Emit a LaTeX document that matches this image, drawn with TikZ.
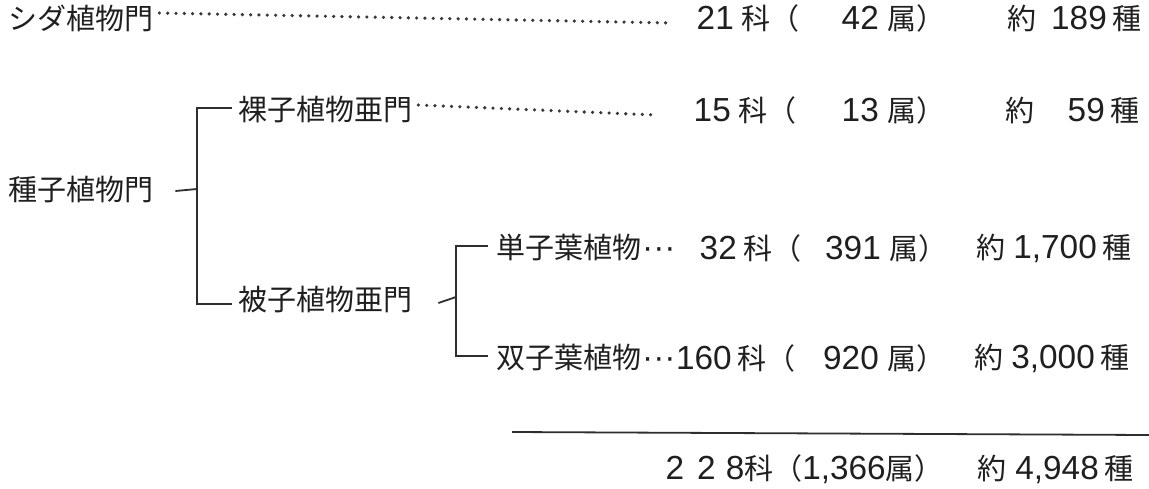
\documentclass[tikz,border=0pt]{standalone}
\usepackage{fontspec}
\setmainfont{Noto Sans CJK JP}
\newfontfamily\numfont[Scale=1.15]{Liberation Sans}
\newcommand{\nm}[1]{{\numfont #1}}
\newcommand{\nb}[2]{\makebox[#1][r]{\numfont #2}}
\begin{document}
\begin{tikzpicture}[x=1pt,y=-1pt,
  lbl/.style={inner sep=0pt,font=\fontsize{29}{32}\selectfont,text=black!88},
  conn/.style={line width=1.8pt,draw=black!82},
  dotline/.style={line width=3.6pt,draw=black!78,dash pattern=on 0pt off 8.3pt,line cap=round}]
\useasboundingbox (0,0) rectangle (1149,488);
% row 1
\node[lbl,anchor=west] (shida) at (8,18) {シダ植物門};
\coordinate (shidaend) at (672,23);
\node[lbl,anchor=east] (shidaf) at (800,18) {\nm{21}\hspace{8pt}科（};
\node[lbl,anchor=east] (shidag) at (946,18) {\nb{60pt}{42}\hspace{9pt}属）};
\node[lbl,anchor=east] (shidas) at (1142,18) {約\hspace{14pt}\nb{56pt}{189}\hspace{6pt}種};
\draw[dotline] ([xshift=6pt,yshift=5pt]shida.east) -- (shidaend);
% seed plants
\node[lbl,anchor=west] (shushi) at (8,190) {種子植物門};
\node[lbl,anchor=west] (rashi) at (238,110) {裸子植物亜門};
\coordinate (rashiend) at (656,115);
\node[lbl,anchor=east] (rashif) at (797,110) {\nm{15}\hspace{8pt}科（};
\node[lbl,anchor=east] (rashig) at (946,110) {\nb{60pt}{13}\hspace{9pt}属）};
\node[lbl,anchor=east] (rashis) at (1140,110) {約\hspace{14pt}\nb{56pt}{59}\hspace{6pt}種};
\draw[dotline] ([xshift=6pt,yshift=5pt]rashi.east) -- (rashiend);
\node[lbl,anchor=west] (hishi) at (238,300) {被子植物亜門};
% monocots / dicots
\node[lbl,anchor=west] (tan) at (496,248) {単子葉植物{\numfont\kern1pt ···}};
\node[lbl,anchor=east] (tanf) at (802,248) {\nm{32}\hspace{7pt}科（};
\node[lbl,anchor=east] (tang) at (948,248) {\nb{60pt}{391}\hspace{9pt}属）};
\node[lbl,anchor=east] (tans) at (1132,248) {約\hspace{5pt}\nb{86pt}{1,700}\hspace{6pt}種};
\node[lbl,anchor=west] (sou) at (496,358) {双子葉植物{\numfont\kern1pt ···}};
\node[lbl,anchor=east] (souf) at (796,358) {\nm{160}\hspace{6pt}科（};
\node[lbl,anchor=east] (soug) at (946,358) {\nb{60pt}{920}\hspace{9pt}属）};
\node[lbl,anchor=east] (sous) at (1130,358) {約\hspace{5pt}\nb{86pt}{3,000}\hspace{6pt}種};
% total
\coordinate (totA) at (512,432);
\coordinate (totB) at (1149,435);
\draw[conn] (totA) -- (totB);
\node[lbl,anchor=east] (totf) at (944,469) {\nm{2\hspace{13pt}2\hspace{10pt}8}科（\nm{1,366}属）};
\node[lbl,anchor=east] (tots) at (1134,469) {約\hspace{6pt}\nb{86pt}{4,948}\hspace{6pt}種};
% brackets
\coordinate (b1) at (197,189);
\draw[conn] ([xshift=22pt,yshift=-1pt]shushi.east) -- (b1);
\draw[conn] ([xshift=-6pt,yshift=2pt]rashi.west) -| (b1) |- ([xshift=-6pt,yshift=-4pt]hishi.west);
\coordinate (b2) at (456,297);
\draw[conn] ([xshift=26pt,yshift=-3pt]hishi.east) -- (b2);
\draw[conn] ([xshift=-8pt,yshift=2pt]tan.west) -| (b2) |- ([xshift=-8pt,yshift=2pt]sou.west);
\end{tikzpicture}
\end{document}
